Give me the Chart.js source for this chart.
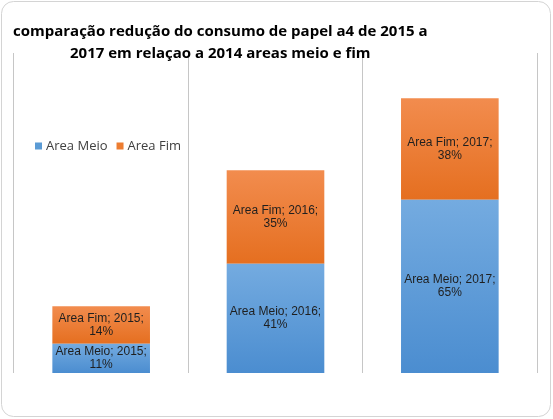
<!DOCTYPE html>
<html>
<head>
<meta charset="utf-8">
<script src="https://cdn.jsdelivr.net/npm/chart.js@4/dist/chart.umd.min.js"></script>
<style>
  html, body { margin: 0; padding: 0; background: #fff; }
  #wrap { width: 553px; height: 419px; position: relative; }
</style>
</head>
<body>
<div id="wrap"><canvas id="chart-papel"></canvas></div>
<script>
const years = ['2015', '2016', '2017'];
const areaMeio = [11, 41, 65];
const areaFim = [14, 35, 38];
const seriesNames = ['Area Meio', 'Area Fim'];
const titleLines = ['comparação redução do consumo de papel a4 de 2015 a', '2017 em relaçao a 2014 areas meio e fim'];

const blue = ['#74abe0', '#4b8dd0'];
const orange = ['#f28c4e', '#e56f20'];
const baseColors = ['#5b9bd5', '#ed7d31'];

// gradient per segment, lighter on top
function segmentGradient(ctx, colors) {
  const chart = ctx.chart;
  if (!chart.chartArea || !chart.scales.y) return colors[1];
  const i = ctx.dataIndex;
  const lo = ctx.datasetIndex === 0 ? 0 : areaMeio[i];
  const hi = ctx.datasetIndex === 0 ? areaMeio[i] : areaMeio[i] + areaFim[i];
  const y = chart.scales.y;
  const g = chart.ctx.createLinearGradient(0, y.getPixelForValue(hi), 0, y.getPixelForValue(lo));
  g.addColorStop(0, colors[0]);
  g.addColorStop(1, colors[1]);
  return g;
}

// outer rounded frame
const framePlugin = {
  id: 'frame',
  beforeDraw(chart) {
    const c = chart.ctx;
    c.save();
    c.fillStyle = '#fff';
    c.fillRect(0, 0, chart.width, chart.height);
    c.strokeStyle = '#d4d4d4';
    c.lineWidth = 1;
    c.beginPath();
    c.roundRect(1.5, 1.5, chart.width - 4, chart.height - 4, 12);
    c.stroke();
    c.restore();
  }
};

// title, both lines centered on the first line
const titlePlugin = {
  id: 'titleLines',
  afterDraw(chart) {
    const c = chart.ctx;
    c.save();
    c.font = 'bold 15px "Open Sans"';
    c.fillStyle = '#000';
    c.textBaseline = 'middle';
    c.textAlign = 'center';
    const w = c.measureText(titleLines[0]).width;
    const cx = 13 + w / 2;
    c.fillText(titleLines[0], cx, 32);
    c.fillText(titleLines[1], cx, 54);
    c.restore();
  }
};

// legend inside the plot area
const legendPlugin = {
  id: 'insideLegend',
  afterDraw(chart) {
    const c = chart.ctx;
    c.save();
    c.font = '13px "Open Sans"';
    c.textBaseline = 'middle';
    let x = 35;
    const y = 146;
    chart.data.datasets.forEach((ds, k) => {
      c.fillStyle = baseColors[k];
      c.fillRect(x, y - 3.5, 7, 7);
      c.fillStyle = '#404040';
      c.fillText(ds.label, x + 11, y);
      x += 11 + c.measureText(ds.label).width + 9;
    });
    c.restore();
  }
};

// "Serie; year;\nvalue%" labels in each segment
const labelPlugin = {
  id: 'segmentLabels',
  afterDatasetsDraw(chart) {
    const c = chart.ctx;
    c.save();
    c.font = '12px "Liberation Sans"';
    c.fillStyle = '#1f1f1f';
    c.textAlign = 'center';
    c.textBaseline = 'middle';
    chart.data.datasets.forEach((ds, k) => {
      chart.getDatasetMeta(k).data.forEach((bar, i) => {
        const mid = (bar.y + bar.base) / 2;
        c.fillText(ds.label + '; ' + years[i] + ';', bar.x, mid - 6.5);
        c.fillText(ds.data[i] + '%', bar.x, mid + 6.5);
      });
    });
    c.restore();
  }
};

new Chart(document.querySelector('#chart-papel'), {
  type: 'bar',
  data: {
    labels: years,
    datasets: [{
      label: seriesNames[0],
      data: areaMeio,
      backgroundColor: ctx => segmentGradient(ctx, blue)
    }, {
      label: seriesNames[1],
      data: areaFim,
      backgroundColor: ctx => segmentGradient(ctx, orange)
    }]
  },
  options: {
    responsive: true,
    maintainAspectRatio: false,
    animation: false,
    layout: {
      padding: { left: 14, right: 16, top: 53, bottom: 46 }
    },
    datasets: {
      bar: {
        categoryPercentage: 1,
        barPercentage: 0.56
      }
    },
    scales: {
      x: {
        stacked: true,
        border: { display: false },
        grid: { color: '#c6c6c6', drawTicks: false, offset: true },
        ticks: { display: false }
      },
      y: {
        stacked: true,
        display: false,
        min: 0,
        max: 120
      }
    },
    plugins: {
      legend: { display: false },
      tooltip: { enabled: false }
    }
  },
  plugins: [framePlugin, titlePlugin, legendPlugin, labelPlugin]
});
</script>
</body>
</html>
